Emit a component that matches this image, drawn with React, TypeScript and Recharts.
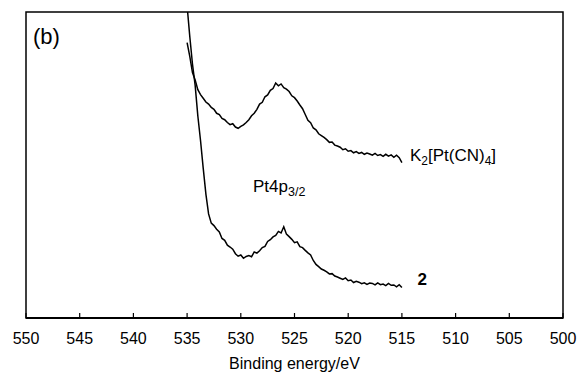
import { LineChart, Line, XAxis, YAxis, ReferenceArea, ReferenceDot } from 'recharts'

// binding energy (eV), 0.25 eV step
const energy = [
    535.00, 534.75, 534.50, 534.25, 534.00, 533.75, 533.50, 533.25, 533.00, 532.75,
    532.50, 532.25, 532.00, 531.75, 531.50, 531.25, 531.00, 530.75, 530.50, 530.25,
    530.00, 529.75, 529.50, 529.25, 529.00, 528.75, 528.50, 528.25, 528.00, 527.75,
    527.50, 527.25, 527.00, 526.75, 526.50, 526.25, 526.00, 525.75, 525.50, 525.25,
    525.00, 524.75, 524.50, 524.25, 524.00, 523.75, 523.50, 523.25, 523.00, 522.75,
    522.50, 522.25, 522.00, 521.75, 521.50, 521.25, 521.00, 520.75, 520.50, 520.25,
    520.00, 519.75, 519.50, 519.25, 519.00, 518.75, 518.50, 518.25, 518.00, 517.75,
    517.50, 517.25, 517.00, 516.75, 516.50, 516.25, 516.00, 515.75, 515.50, 515.25,
    515.00
]

// K2[Pt(CN)4] intensity (a.u.)
const k2PtCN4 = [
    90.0, 85.5, 80.2, 77.8, 74.6, 73.0, 71.8, 70.6, 69.9, 68.8,
    68.2, 66.9, 66.5, 65.2, 64.8, 63.9, 63.2, 63.5, 62.4, 62.0,
    62.6, 63.1, 63.9, 64.8, 66.1, 66.9, 68.2, 69.9, 70.5, 72.3,
    72.9, 74.4, 75.0, 76.8, 75.9, 76.5, 75.3, 74.8, 74.0, 72.6,
    72.0, 70.9, 69.6, 68.4, 66.5, 64.6, 63.8, 62.1, 61.5, 60.2,
    59.6, 59.0, 58.3, 57.4, 57.5, 56.5, 56.2, 55.8, 55.0, 55.3,
    54.5, 54.7, 54.0, 54.4, 53.8, 54.1, 53.5, 53.9, 53.6, 53.2,
    53.8, 53.1, 53.4, 52.8, 53.5, 52.9, 53.3, 52.5, 53.2, 52.4,
    50.8
]

// compound 2 intensity (a.u.)
const compound2 = [
    102.0, 92.0, 83.0, 76.0, 66.0, 58.0, 49.0, 40.5, 34.0, 31.0,
    30.2, 29.0, 28.1, 26.0, 25.4, 23.8, 23.2, 22.5, 21.0, 20.2,
    20.6, 19.5, 20.1, 20.4, 20.0, 21.6, 21.2, 22.0, 23.0, 23.4,
    25.0, 25.6, 26.5, 27.0, 28.3, 27.8, 29.8, 27.4, 26.6, 25.7,
    24.6, 24.9, 23.3, 23.0, 22.1, 21.3, 20.6, 18.8, 17.5, 16.8,
    16.0, 15.6, 15.1, 14.4, 14.5, 13.7, 13.4, 13.0, 12.6, 13.1,
    12.2, 12.4, 11.6, 12.0, 11.7, 11.2, 11.5, 11.0, 11.4, 11.3,
    10.8, 11.5, 10.9, 11.1, 10.6, 11.3, 10.7, 10.8, 10.2, 10.9,
    10.0
]

const xTicks = [550, 545, 540, 535, 530, 525, 520, 515, 510, 505, 500]

const data = energy.map((e, i) => ({ e, k2: k2PtCN4[i], s2: compound2[i] }))

const font = '"Liberation Sans", Arial, sans-serif'

const TextB = (props: any) => {
    const { x, y } = props.viewBox
    return <text x={x} y={y} fontFamily={font} fontSize={22} fill="#000">(b)</text>
}

const TextK2 = (props: any) => {
    const { x, y } = props.viewBox
    return (
        <text x={x} y={y} fontFamily={font} fontSize={17} fill="#000">
            K<tspan fontSize={12} dy={4}>2</tspan>
            <tspan dy={-4}>[Pt(CN)</tspan>
            <tspan fontSize={12} dy={4}>4</tspan>
            <tspan dy={-4}>]</tspan>
        </text>
    )
}

const TextPt = (props: any) => {
    const { x, y } = props.viewBox
    return (
        <text x={x} y={y} fontFamily={font} fontSize={17} fill="#000">
            Pt4p<tspan fontSize={12.5} dy={4}>3/2</tspan>
        </text>
    )
}

const Text2 = (props: any) => {
    const { x, y } = props.viewBox
    return <text x={x} y={y} fontFamily={font} fontSize={17} fontWeight="bold" fill="#000">2</text>
}

const App = () => {
    return (
        <div style={{ position: 'absolute', left: 0, top: 0, background: '#fff' }}>
            <LineChart width={579} height={376} data={data}
                margin={{ top: 12, right: 16, left: 26, bottom: 0 }}>
                <XAxis
                    dataKey="e"
                    type="number"
                    domain={[500, 550]}
                    reversed
                    ticks={xTicks}
                    interval={0}
                    height={58}
                    tickSize={-5}
                    tickMargin={20}
                    axisLine={{ stroke: '#000', strokeWidth: 2 }}
                    tickLine={{ stroke: '#000', strokeWidth: 1.2 }}
                    tick={{ fill: '#000', fontSize: 16, fontFamily: font }}
                    label={{ value: 'Binding energy/eV', position: 'insideBottom', offset: 7, fill: '#000', fontSize: 16, fontFamily: font }}
                />
                <YAxis hide width={0} domain={[0, 100]} allowDataOverflow />
                <ReferenceArea x1={550} x2={500} y1={0} y2={100} fill="none" stroke="#000" strokeWidth={1.5} />
                <Line type="linear" dataKey="k2" stroke="#000" strokeWidth={1.5} dot={false} isAnimationActive={false} />
                <Line type="linear" dataKey="s2" stroke="#000" strokeWidth={1.5} dot={false} isAnimationActive={false} />
                <ReferenceDot x={549.35} y={89.5} r={0} fill="none" stroke="none" label={<TextB />} />
                <ReferenceDot x={514.25} y={51.3} r={0} fill="none" stroke="none" label={<TextK2 />} />
                <ReferenceDot x={528.86} y={41.3} r={0} fill="none" stroke="none" label={<TextPt />} />
                <ReferenceDot x={513.55} y={10.8} r={0} fill="none" stroke="none" label={<Text2 />} />
            </LineChart>
        </div>
    )
}

export default App
